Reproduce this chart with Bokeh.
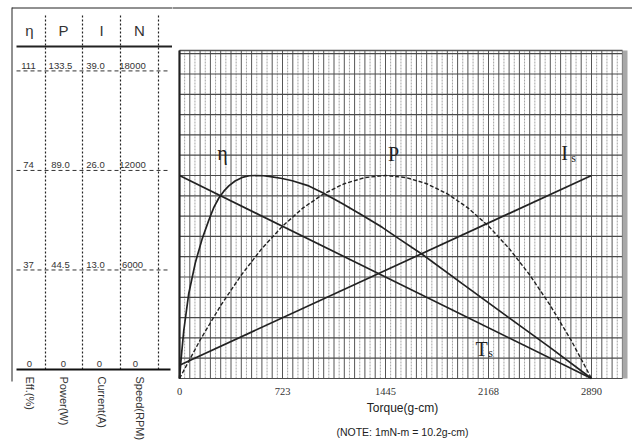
import math
from bokeh.plotting import figure
from bokeh.models import Range1d, FixedTicker, Label, LinearAxis
from bokeh.layouts import row
from bokeh.core.properties import value
from bokeh.embed import file_html
from bokeh.resources import INLINE

# ---------------- data ----------------
eff_ticks = [0, 37, 74, 111]
power_ticks = ["0", "44.5", "89.0", "133.5"]
current_ticks = ["0", "13.0", "26.0", "39.0"]
speed_ticks = ["0", "6000", "12000", "18000"]
column_heads = ["η", "P", "I", "N"]
column_units = ["Eff.(%)", "Power(W)", "Current(A)", "Speed(RPM)"]
torque_ticks = [0, 723, 1445, 2168, 2890]

eff_torque = [0, 12, 30, 65, 112, 159, 206, 241, 276, 311, 346, 390, 440, 490, 533,
              590, 650, 720, 791, 907, 1001, 1141, 1282, 1422, 1538, 1702, 1983,
              2310, 2591, 2890]
eff = [0, 7.5, 17.5, 31.0, 42.4, 50.9, 57.8, 62.4, 65.8, 68.3, 70.2, 72.0, 73.3,
       73.9, 74.0, 73.9, 73.5, 72.9, 72.1, 70.2, 67.8, 63.8, 59.5, 55.1, 51.0,
       45.3, 34.6, 22.2, 11.6, 0]

power_torque = [0, 145, 289, 434, 578, 723, 867, 1012, 1156, 1301, 1445, 1590,
                1734, 1879, 2023, 2168, 2312, 2457, 2601, 2746, 2890]
power = [0, 16.9, 32.0, 45.4, 57.0, 66.8, 74.8, 81.0, 85.4, 88.1, 89.0, 88.1,
         85.4, 81.0, 74.8, 66.8, 57.0, 45.4, 32.0, 16.9, 0]

current_torque = [0, 2890]
current = [1.7, 26.0]

speed_torque = [0, 2890]
speed = [12000, 0]

# scale factors onto the efficiency axis (row "74 / 89.0 / 26.0 / 12000")
p_scale = eff_ticks[2] / float(power_ticks[2])
i_scale = eff_ticks[2] / float(current_ticks[2])
n_scale = eff_ticks[2] / float(speed_ticks[2])

INK = "#222222"
TXT = "#333333"
SANS = "Liberation Sans"
SERIF = "Liberation Serif"

H = 443
FRAME_BOTTOM = 381          # page y of both frames' bottom edge
LT_W = 172
MAIN_W = 632 - LT_W

# ---------------- left table figure ----------------
PXU = 2.69          # pixels per efficiency unit in the table
ZERO_PY = 369       # page y of the zero row


def tv(py):
    return (ZERO_PY - py) / PXU


col_x = [29, 63, 101, 139]
val_x = [28, 60, 95, 132]
zero_x = [29, 63, 99, 135]
sep_x = [45, 82, 120, 158]

lt = figure(width=LT_W, height=H, x_range=Range1d(0, LT_W),
            y_range=Range1d(tv(FRAME_BOTTOM), tv(0)),
            min_border_left=0, min_border_right=0, min_border_top=0,
            min_border_bottom=H - FRAME_BOTTOM, y_axis_location=None,
            output_backend="svg", toolbar_location=None)
lt.grid.visible = False
lt.outline_line_color = None

# outer border (left and top)
lt.segment(x0=[11.5], y0=[tv(7)], x1=[11.5], y1=[tv(FRAME_BOTTOM + 5)],
           line_color=INK, line_width=1)
lt.segment(x0=[11.5], y0=[tv(7.5)], x1=[LT_W + 1], y1=[tv(7.5)],
           line_color=INK, line_width=1)

# header
lt.text(x=col_x, y=[tv(30)] * 4, text=column_heads, text_font=value(SANS),
        text_font_size="15px", text_color=TXT, text_align="center",
        text_baseline="middle")
lt.segment(x0=[16], y0=[tv(46)], x1=[172], y1=[tv(46)], line_color=INK, line_width=2)

# vertical dotted separators
lt.segment(x0=sep_x, y0=[tv(15)] * 4, x1=sep_x, y1=[0] * 4, line_color=INK,
           line_width=1.2, line_dash="2 2")

# dashed value rows and bottom rule
rows_y = eff_ticks[1:]
lt.segment(x0=[16] * 3, y0=rows_y, x1=[170] * 3, y1=rows_y, line_color=TXT,
           line_width=1, line_dash="4 3")
lt.segment(x0=[16], y0=[0], x1=[170], y1=[0], line_color="#111111", line_width=2)

for i in range(1, 4):
    txt = [str(eff_ticks[i]), power_ticks[i], current_ticks[i], speed_ticks[i]]
    lt.text(x=val_x, y=[eff_ticks[i] + 2.0 / PXU] * 4, text=txt,
            text_font=value(SANS), text_font_size="9.5px", text_color=TXT,
            text_align="center", text_baseline="bottom")
lt.text(x=zero_x, y=[2.5 / PXU] * 4,
        text=[str(eff_ticks[0]), power_ticks[0], current_ticks[0], speed_ticks[0]],
        text_font=value(SANS), text_font_size="9.5px", text_color=TXT,
        text_align="center", text_baseline="bottom")

# rotated unit labels as tick labels of the table's bottom axis
lax = lt.xaxis[0]
lax.ticker = FixedTicker(ticks=col_x)
lax.major_label_overrides = {c: u for c, u in zip(col_x, column_units)}
lax.major_label_orientation = "vertical"
lax.axis_line_color = None
lax.major_tick_line_color = None
lax.minor_tick_line_color = None
lax.major_tick_out = 0
lax.major_tick_in = 0
lax.major_label_standoff = -5
lax.major_label_text_font = SANS
lax.major_label_text_font_size = "11px"
lax.major_label_text_color = TXT

# ---------------- main chart ----------------
PX_T = 412.0 / 2890      # px per torque unit
PX_E = 203.0 / 74        # px per efficiency unit
X0_PAGE = 179            # page x of torque 0
Y0_PAGE = 378            # page y of value 0


def tx(px):
    return (px - X0_PAGE) / PX_T


def ey(py):
    return (Y0_PAGE - py) / PX_E


p = figure(width=MAIN_W, height=H, x_range=Range1d(tx(LT_W), tx(632)),
           y_range=Range1d(ey(FRAME_BOTTOM), ey(0)),
           min_border_left=0, min_border_right=0, min_border_top=0,
           min_border_bottom=H - FRAME_BOTTOM, y_axis_location=None,
           output_backend="svg", toolbar_location=None)
p.xgrid.grid_line_color = None
p.ygrid.grid_line_color = None
p.outline_line_color = None

GRID_TOP = ey(50)
GRID_RIGHT = tx(622)
step_x = torque_ticks[-1] / 40.0
vx = [k * step_x for k in range(44)]
vx_minor = [k * step_x + step_x / 2 for k in range(43)]
step_y = eff_ticks[2] / 10.0
hy = [k * step_y for k in range(17)]

# graph-paper grid
p.segment(x0=vx_minor, y0=[0] * len(vx_minor), x1=vx_minor, y1=[GRID_TOP] * len(vx_minor),
          line_color="#a4a4a4", line_width=1, line_dash="2 1")
p.segment(x0=vx, y0=[0] * len(vx), x1=vx, y1=[GRID_TOP] * len(vx),
          line_color="#555555", line_width=1)
p.segment(x0=[0] * len(hy), y0=hy, x1=[GRID_RIGHT] * len(hy), y1=hy,
          line_color="#4a4a4a", line_width=1.2)
p.segment(x0=[0], y0=[GRID_TOP], x1=[GRID_RIGHT], y1=[GRID_TOP],
          line_color="#555555", line_width=1.5)
p.segment(x0=[0], y0=[0], x1=[0], y1=[GRID_TOP], line_color=INK, line_width=2.2)
p.segment(x0=[tx(624.5)], y0=[0], x1=[tx(624.5)], y1=[GRID_TOP],
          line_color="#a8a8a8", line_width=5)
# outer top border
p.segment(x0=[tx(LT_W - 1)], y0=[ey(7.5)], x1=[tx(632)], y1=[ey(7.5)],
          line_color=INK, line_width=1)

# curves
p.line(eff_torque, eff, line_color=INK, line_width=1.7)
p.line(power_torque, [v * p_scale for v in power], line_color=INK,
       line_width=1.4, line_dash="4 2")
p.line(current_torque, [v * i_scale for v in current], line_color=INK, line_width=1.7)
p.line(speed_torque, [v * n_scale for v in speed], line_color=INK, line_width=1.7)


def lab(x, y, t, size):
    p.add_layout(Label(x=x, y=y, text=t, text_font=SERIF, text_font_size=size,
                       text_color=INK, text_align="center", text_baseline="middle"))


lab(tx(222), ey(152), "η", "20px")
lab(tx(393), ey(153), "P", "20px")
lab(tx(564), ey(152), "I", "20px")
lab(tx(573), ey(157), "s", "12px")
lab(tx(481), ey(348), "T", "20px")
lab(tx(490), ey(352), "s", "12px")

# x axis: tick labels + title, centred on 0..2890
ax = p.xaxis[0]
ax.ticker = FixedTicker(ticks=torque_ticks)
ax.bounds = (torque_ticks[0], torque_ticks[-1])
ax.axis_line_color = None
ax.major_tick_line_color = None
ax.minor_tick_line_color = None
ax.major_tick_out = 0
ax.major_tick_in = 0
ax.major_label_text_font = SERIF
ax.major_label_text_font_size = "10.5px"
ax.major_label_text_color = TXT
ax.major_label_standoff = 6
ax.axis_label = "Torque(g-cm)"
ax.axis_label_text_font = SANS
ax.axis_label_text_font_size = "12px"
ax.axis_label_text_font_style = "normal"
ax.axis_label_text_color = INK
ax.axis_label_standoff = 3

note = LinearAxis(ticker=FixedTicker(ticks=[]), bounds=(torque_ticks[0], torque_ticks[-1]),
                  axis_label="(NOTE: 1mN-m = 10.2g-cm)", axis_line_color=None,
                  major_tick_line_color=None, minor_tick_line_color=None,
                  major_tick_out=0, major_tick_in=0, major_label_standoff=0,
                  axis_label_standoff=8, axis_label_text_font=SANS,
                  axis_label_text_font_size="10.5px",
                  axis_label_text_font_style="normal", axis_label_text_color=INK)
p.add_layout(note, "below")

layout = row(lt, p)

open("out.html", "w").write(file_html(layout, INLINE))
